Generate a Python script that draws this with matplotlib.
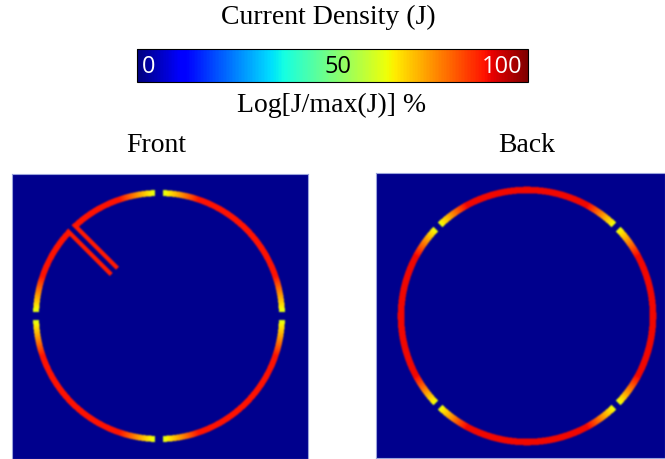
import numpy as np
import matplotlib
matplotlib.use("Agg")
import matplotlib.pyplot as plt
from matplotlib import cm, colors

# ============================
# DATA
# ============================
panel_titles = ["Front", "Back"]

# ring geometry (pixel units)
ring_radius = [123, 126]
ring_halfwidth = [3.0, 3.3]
gap_angles = [[0, 90, 180, 270], [45, 135, 225, 315]]
gap_width = [8, 6]

# current density levels (% of the log scale)
background_level = 1.5
peak_level = [89, 90]      # middle of each arc (red)
gap_level = [62, 63]       # next to the gaps (yellow)
fade_deg = [17, 15]        # how far the yellow runs from a gap

# slot on the front face
slot_angle = 135
slot_inner = 63
slot_offset = 4.4
slot_halfwidth = 2.2
slot_level = 88

# colour bar
cbar_ticks = [0, 50, 100]
cbar_tick_colors = ["white", "black", "white"]

# panel extents around the ring centre (x0, x1, y0, y1)
extents = [(-147, 149, -143, 142), (-151, 138, -142, 143)]


# ============================
# BUILD CURRENT DENSITY MAPS
# ============================
def ring_map(i):
    x0, x1, y0, y1 = extents[i]
    xs = np.arange(x0, x1, 0.5) + 0.25
    ys = np.arange(y0, y1, 0.5) + 0.25
    X, Y = np.meshgrid(xs, ys)
    r = np.hypot(X, Y)
    th = np.degrees(np.arctan2(Y, X)) % 360

    d = np.full(X.shape, 360.0)
    for g in gap_angles[i]:
        diff = np.abs((th - g + 180) % 360 - 180)
        d = np.minimum(d, diff)

    gap_half = np.degrees(gap_width[i] / 2 / ring_radius[i])
    level = gap_level[i] + (peak_level[i] - gap_level[i]) * np.clip(
        (d - gap_half) / fade_deg[i], 0, 1)
    on_ring = (np.abs(r - ring_radius[i]) <= ring_halfwidth[i]) & (d > gap_half)
    J = np.where(on_ring, level, background_level)

    if i == 0:
        a = np.radians(slot_angle)
        ux, uy = np.cos(a), np.sin(a)
        vx, vy = -uy, ux
        s = X * ux + Y * uy
        t = X * vx + Y * vy
        along = (s >= slot_inner) & (s <= ring_radius[i] + 1)
        # open the ring between the two slot lines
        J = np.where((np.abs(t) < slot_offset - slot_halfwidth) & (s > slot_inner),
                     background_level, J)
        for off in (-slot_offset, slot_offset):
            line = along & (np.abs(t - off) <= slot_halfwidth)
            J = np.where(line, slot_level, J)
    return J


def soften(rgba, n=2):
    # small box blur so the rings look like the resampled simulation output
    out = rgba.copy()
    for _ in range(n):
        p = np.pad(out, ((1, 1), (1, 1), (0, 0)), mode="edge")
        out = sum(p[1 + dy:p.shape[0] - 1 + dy, 1 + dx:p.shape[1] - 1 + dx]
                  for dy in (-1, 0, 1) for dx in (-1, 0, 1)) / 9.0
    return out


# ============================
# FIGURE
# ============================
fig = plt.figure(figsize=(6.65, 4.59), dpi=100)

serif = ["Liberation Serif", "DejaVu Serif"]
jet = plt.get_cmap("jet")
norm = colors.Normalize(0, 100)

positions = [
    [12 / 665, 0 / 459, 296 / 665, 285 / 459],
    [376 / 665, 1 / 459, 289 / 665, 285 / 459],
]
title_x = [156 / 665, 527 / 665]

for i in range(2):
    ax = fig.add_axes(positions[i])
    J = ring_map(i)
    rgba = soften(jet(norm(J)), n=3)
    ax.imshow(rgba, origin="lower", extent=extents[i], aspect="auto",
              interpolation="bilinear")
    ax.set_xticks([])
    ax.set_yticks([])
    for sp in ax.spines.values():
        sp.set_color("#9aa3dc")
        sp.set_linewidth(0.8)
    fig.text(title_x[i], 1 - 146 / 459, panel_titles[i], ha="center",
             va="center", fontsize=20, family=serif)

# ============================
# COLOUR BAR
# ============================
cax = fig.add_axes([137 / 665, 1 - 82 / 459, 391 / 665, 33 / 459])
sm = cm.ScalarMappable(norm=norm, cmap="jet")
cb = fig.colorbar(sm, cax=cax, orientation="horizontal")
cb.set_ticks([])
cb.outline.set_linewidth(0.8)

tick_x = [0.012, 0.515, 0.985]
tick_ha = ["left", "center", "right"]
for k, val in enumerate(cbar_ticks):
    cax.text(tick_x[k], 0.45, str(val), transform=cax.transAxes,
             ha=tick_ha[k], va="center", fontsize=17,
             color=cbar_tick_colors[k], family=["Open Sans", "DejaVu Sans"])

fig.text(328 / 665, 1 - 17 / 459, "Current Density (J)", ha="center",
         va="center", fontsize=20, family=serif)
fig.text(332 / 665, 1 - 105 / 459, "Log[J/max(J)] %", ha="center",
         va="center", fontsize=20, family=serif)

plt.savefig("out.png", dpi=100)
